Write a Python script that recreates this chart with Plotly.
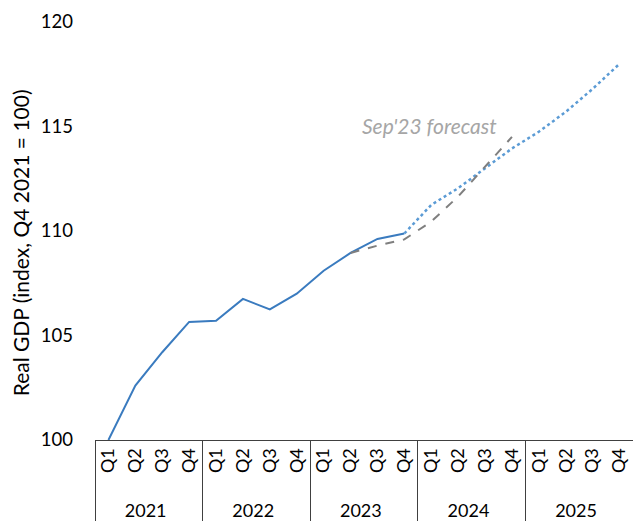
import plotly.graph_objects as go

years = ["2021", "2022", "2023", "2024", "2025"]
quarters = ["Q1", "Q2", "Q3", "Q4"]

# Outturn (2021Q1 - 2023Q4)
actual = [100.0, 102.6, 104.2, 105.65, 105.7, 106.75, 106.25, 107.0,
          108.1, 108.95, 109.62, 109.88]
# Current forecast (2023Q4 - 2025Q4)
forecast = [109.88, 111.25, 112.05, 113.0, 113.95, 114.75, 115.7, 116.8, 118.0]
# Sep'23 forecast (2023Q2 - 2024Q4)
sep23 = [108.95, 109.3, 109.6, 110.45, 111.65, 113.1, 114.5]

# leading non-breaking spaces leave room between the quarter and year rows
pad = "\u00a0" * 2
all_x = [[y for y in years for _ in quarters], [pad + q for _ in years for q in quarters]]


def xslice(start, n):
    return [all_x[0][start:start + n], all_x[1][start:start + n]]


fig = go.Figure()
fig.add_trace(go.Scatter(x=xslice(0, len(actual)), y=actual, mode="lines",
                         line=dict(color="#3A7BBF", width=2), showlegend=False))
fig.add_trace(go.Scatter(x=xslice(11, len(forecast)), y=forecast, mode="lines",
                         line=dict(color="#5B9BD5", width=2.5, dash="dot"), showlegend=False))
fig.add_trace(go.Scatter(x=xslice(9, len(sep23)), y=sep23, mode="lines",
                         line=dict(color="#7F7F7F", width=2, dash="dash"), showlegend=False))

fig.add_annotation(x=11.95, y=115.07, xref="x", yref="y",
                   text="<i>Sep'23 forecast</i>", showarrow=False,
                   font=dict(size=21, color="#A6A6A6", family="Lato"))

fig.add_annotation(x=-0.139, y=0.471, xref="paper", yref="paper", textangle=-90,
                   text="Real GDP (index, Q4 2021 = 100)", showarrow=False,
                   xanchor="center", yanchor="middle",
                   font=dict(size=21, color="#000000", family="Lato"))

fig.update_layout(
    width=633, height=521,
    margin=dict(l=95, r=0, t=22, b=81, autoexpand=False),
    plot_bgcolor="white", paper_bgcolor="white",
    font=dict(family="Lato", size=18, color="#000000"),
    xaxis=dict(type="multicategory", range=[-0.5, 19.5], autorange=False,
               showline=True, linecolor="#404040", linewidth=1,
               showgrid=False, zeroline=False, tickangle=-90, showdividers=True,
               dividercolor="#404040", dividerwidth=1, ticks="",
               tickfont=dict(size=18)),
    yaxis=dict(range=[100, 120], tickvals=[100, 105, 110, 115, 120], showgrid=False,
               zeroline=False, showline=False, ticks="", ticklabelstandoff=21,
               tickfont=dict(size=18.5)),
)

fig.write_html("out.html", config={"displayModeBar": False},
               post_script="document.body.style.margin='0';")
